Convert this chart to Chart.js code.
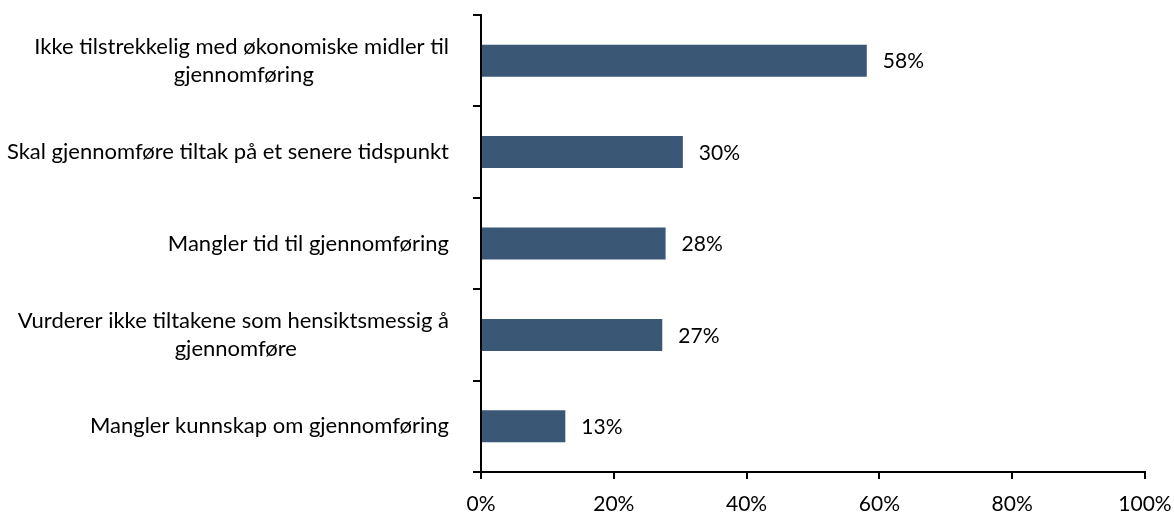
<!DOCTYPE html>
<html>
<head>
<meta charset="utf-8">
<script src="https://cdn.jsdelivr.net/npm/chart.js@4/dist/chart.umd.min.js"></script>
<style>
  html, body { margin: 0; padding: 0; background: #fff; }
  #wrap { width: 1174px; height: 513px; position: relative; }
</style>
</head>
<body>
<div id="wrap"><canvas id="c"></canvas></div>
<script>
const categories = [
  ["Ikke tilstrekkelig med økonomiske midler til", "gjennomføring"],
  "Skal gjennomføre tiltak på et senere tidspunkt",
  "Mangler tid til gjennomføring",
  ["Vurderer ikke tiltakene som hensiktsmessig å", "gjennomføre"],
  "Mangler kunnskap om gjennomføring"
];
const values = [58.1, 30.4, 27.8, 27.3, 12.7];
const valueLabels = ["58%", "30%", "28%", "27%", "13%"];
const xTicks = [0, 20, 40, 60, 80, 100];

const FONT_FAMILY = "Lato, 'Open Sans', sans-serif";
const CAT_FONT_SIZE = 22;
const NUM_FONT_SIZE = 21;
const BAR_COLOR = "#3A5775";

// center the lines of multi-line labels relative to each other (right-aligned block)
const mctx = document.createElement('canvas').getContext('2d');
mctx.font = CAT_FONT_SIZE + "px " + FONT_FAMILY;
const spaceW = mctx.measureText(" ").width;
const displayCats = categories.map(c => {
  if (!Array.isArray(c)) return c;
  const widths = c.map(s => mctx.measureText(s).width);
  const maxW = Math.max(...widths);
  return c.map((s, i) => {
    const n = Math.round((maxW - widths[i]) / 2 / spaceW);
    return s + " ".repeat(n);
  });
});

const valueLabelPlugin = {
  id: 'valueLabels',
  afterDatasetsDraw(chart) {
    const ctx = chart.ctx;
    const meta = chart.getDatasetMeta(0);
    ctx.save();
    ctx.font = NUM_FONT_SIZE + "px " + FONT_FAMILY;
    ctx.fillStyle = "#000";
    ctx.textAlign = "left";
    ctx.textBaseline = "middle";
    meta.data.forEach((bar, i) => {
      ctx.fillText(valueLabels[i], bar.x + 16, bar.y + 1);
    });
    ctx.restore();
  }
};

new Chart(document.getElementById('c'), {
  type: 'bar',
  data: {
    labels: displayCats,
    datasets: [{
      data: values,
      backgroundColor: BAR_COLOR,
      borderWidth: 0,
      barPercentage: 0.35,
      categoryPercentage: 1.0
    }]
  },
  options: {
    indexAxis: 'y',
    responsive: true,
    maintainAspectRatio: false,
    animation: false,
    layout: { padding: { left: 0, right: 29, top: 15, bottom: 0 } },
    plugins: { legend: { display: false }, tooltip: { enabled: false } },
    scales: {
      x: {
        min: 0, max: 100,
        afterFit(scale) { scale.height = 41; scale.paddingLeft = 0; scale.paddingRight = 0; },
        afterBuildTicks(scale) { scale.ticks = xTicks.map(v => ({ value: v })); },
        border: { display: true, color: "#000", width: 2 },
        grid: { display: true, drawOnChartArea: false, drawTicks: true, tickLength: 7, color: "#000", lineWidth: 2 },
        ticks: {
          color: "#000",
          font: { family: FONT_FAMILY, size: NUM_FONT_SIZE },
          padding: 13,
          maxRotation: 0,
          callback: v => v + "%"
        }
      },
      y: {
        afterFit(scale) { scale.width = 481; scale.paddingTop = 0; scale.paddingBottom = 0; },
        border: { display: true, color: "#000", width: 2 },
        grid: { display: true, offset: true, drawOnChartArea: false, drawTicks: true, tickLength: 8, color: "#000", lineWidth: 2 },
        ticks: {
          color: "#000",
          font: { family: FONT_FAMILY, size: CAT_FONT_SIZE, lineHeight: 1.25 },
          padding: 24,
          crossAlign: 'near'
        }
      }
    }
  },
  plugins: [valueLabelPlugin]
});
</script>
</body>
</html>
